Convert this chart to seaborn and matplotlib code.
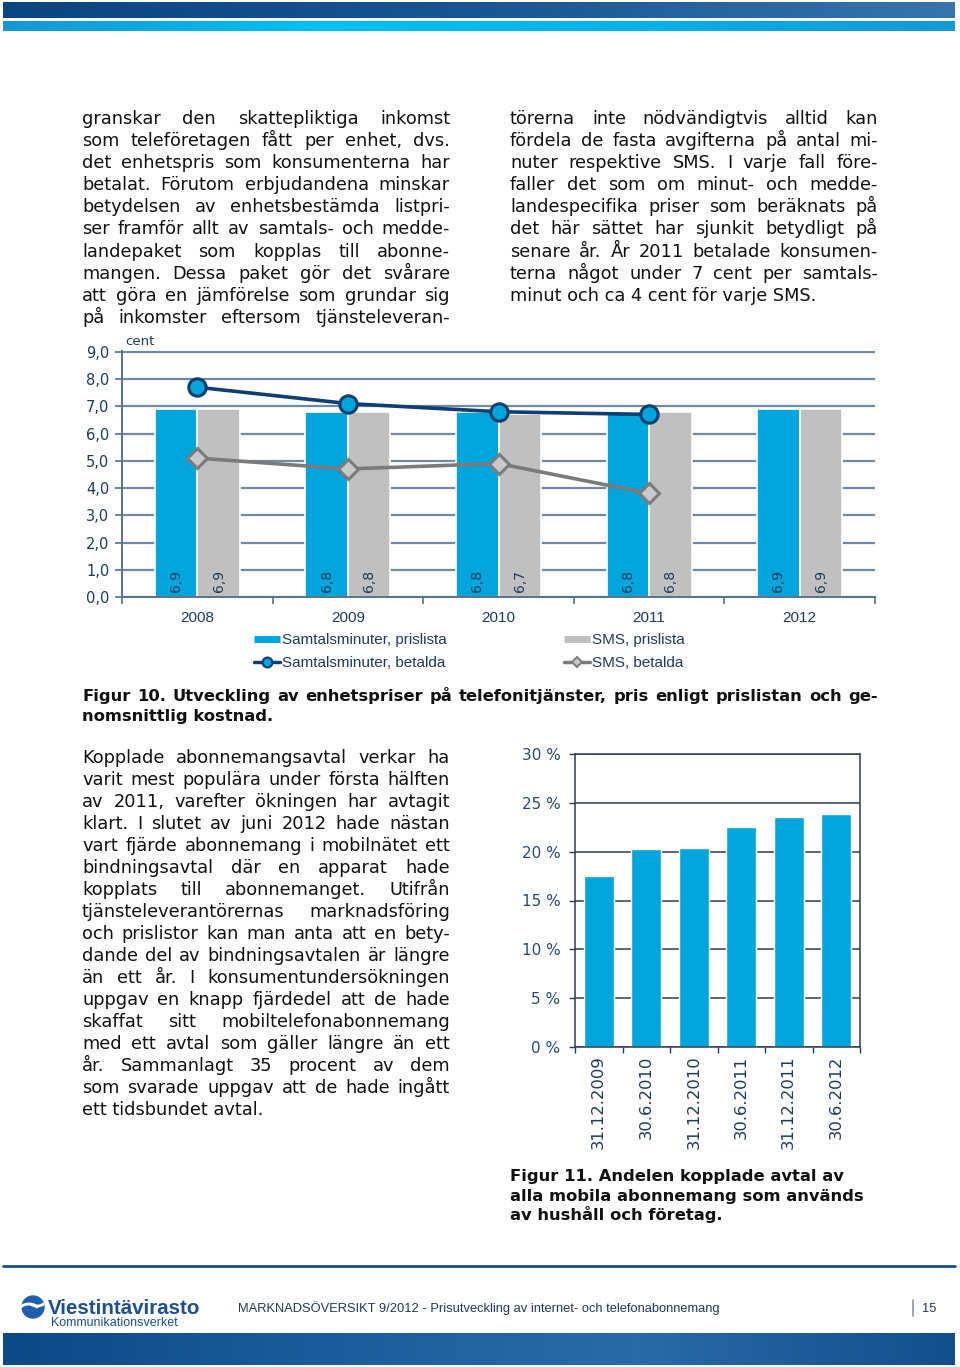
import numpy as np
import pandas as pd
import matplotlib
matplotlib.use("Agg")
import matplotlib.pyplot as plt
import seaborn as sns
from matplotlib.colors import LinearSegmentedColormap
from matplotlib.lines import Line2D
from matplotlib.patches import Circle, Arc

# Figur 10 - enhetspriser (cent)
years = ["2008", "2009", "2010", "2011", "2012"]
min_prislista = [6.9, 6.8, 6.8, 6.8, 6.9]
sms_prislista = [6.9, 6.8, 6.7, 6.8, 6.9]
betalda_years = ["2008", "2009", "2010", "2011"]
min_betalda = [7.7, 7.1, 6.8, 6.7]
sms_betalda = [5.1, 4.7, 4.9, 3.8]
series_names = ["Samtalsminuter, prislista", "SMS, prislista",
                "Samtalsminuter, betalda", "SMS, betalda"]

# Figur 11 - andel kopplade avtal (%)
dates = ["31.12.2009", "30.6.2010", "31.12.2010", "30.6.2011", "31.12.2011", "30.6.2012"]
andel = [17.5, 20.3, 20.4, 22.5, 23.6, 23.9]

left1 = [
    "granskar den skattepliktiga inkomst",
    "som teleföretagen fått per enhet, dvs.",
    "det enhetspris som konsumenterna har",
    "betalat. Förutom erbjudandena minskar",
    "betydelsen av enhetsbestämda listpri-",
    "ser framför allt av samtals- och medde-",
    "landepaket som kopplas till abonne-",
    "mangen. Dessa paket gör det svårare",
    "att göra en jämförelse som grundar sig",
    "på inkomster eftersom tjänsteleveran-",
]
right1 = [
    "törerna inte nödvändigtvis alltid kan",
    "fördela de fasta avgifterna på antal mi-",
    "nuter respektive SMS. I varje fall före-",
    "faller det som om minut- och medde-",
    "landespecifika priser som beräknats på",
    "det här sättet har sjunkit betydligt på",
    "senare år. År 2011 betalade konsumen-",
    "terna något under 7 cent per samtals-",
    "minut och ca 4 cent för varje SMS.",
]
cap10 = [
    "Figur 10. Utveckling av enhetspriser på telefonitjänster, pris enligt prislistan och ge-",
    "nomsnittlig kostnad.",
]
left2 = [
    "Kopplade abonnemangsavtal verkar ha",
    "varit mest populära under första hälften",
    "av 2011, varefter ökningen har avtagit",
    "klart. I slutet av juni 2012 hade nästan",
    "vart fjärde abonnemang i mobilnätet ett",
    "bindningsavtal där en apparat hade",
    "kopplats till abonnemanget. Utifrån",
    "tjänsteleverantörernas marknadsföring",
    "och prislistor kan man anta att en bety-",
    "dande del av bindningsavtalen är längre",
    "än ett år. I konsumentundersökningen",
    "uppgav en knapp fjärdedel att de hade",
    "skaffat sitt mobiltelefonabonnemang",
    "med ett avtal som gäller längre än ett",
    "år. Sammanlagt 35 procent av dem",
    "som svarade uppgav att de hade ingått",
    "ett tidsbundet avtal.",
]
cap11 = [
    "Figur 11. Andelen kopplade avtal av",
    "alla mobila abonnemang som används",
    "av hushåll och företag.",
]

BLUE = "#00a5dc"
GRAY = "#c0c0c0"
LINE_NAVY = "#0f3e72"
SMS_LINE = "#7b7b7b"
SMS_FILL = "#c9c9c9"
NAVY = "#1f3a5f"
GRID1 = "#7089a5"
AXIS1 = "#56718f"
FRAME2 = "#2b3d55"

sns.set_style("white")
plt.rcParams["font.family"] = ["DejaVu Sans"]

W, H = 960, 1367
fig = plt.figure(figsize=(W / 100, H / 100), dpi=100)
bg = fig.add_axes([0, 0, 1, 1], zorder=0)
bg.axis("off")


def set_bg_limits():
    bg.set_xlim(0, W)
    bg.set_ylim(H, 0)


set_bg_limits()


def px_axes(x0, y0, x1, y1):
    a = fig.add_axes([x0 / W, 1 - y1 / H, (x1 - x0) / W, (y1 - y0) / H], zorder=2)
    a.set_facecolor("none")
    return a


def band(x0, x1, y0, y1, colors):
    cmap = LinearSegmentedColormap.from_list("band", colors)
    bg.imshow(np.linspace(0, 1, 256)[None, :], cmap=cmap, aspect="auto",
              extent=(x0, x1, y1, y0), interpolation="bicubic")


renderer = fig.canvas.get_renderer()


def para(lines, x0, x1, y0, dy, justify_last=False, justify=True, **kw):
    for i, line in enumerate(lines):
        y = y0 + i * dy
        last = i == len(lines) - 1
        words = line.split(" ")
        if not justify or (last and not justify_last) or len(words) < 2:
            bg.text(x0, y, line, ha="left", va="baseline", **kw)
            continue
        arts = [bg.text(x0, y, w, ha="left", va="baseline", **kw) for w in words]
        ws = [a.get_window_extent(renderer).width for a in arts]
        gap = (x1 - x0 - sum(ws)) / (len(words) - 1)
        x = x0
        for a, w in zip(arts, ws):
            a.set_x(x)
            x += w + gap


# sidhuvud
band(3, 955, 2, 18, ["#0a4580", "#195592", "#3774ae"])
band(3, 955, 21, 31, ["#1597d4", "#00c2f4", "#02b2ec", "#1599d5"])

body = dict(fontsize=12.8, color="#111111")
para(left1, 82, 450, 124, 22.1, justify_last=True, **body)
para(right1, 510, 878, 124, 22.1, **body)
para(left2, 82, 450, 763, 22.03, **body)
capkw = dict(fontsize=11.8, fontweight="bold", color="#111111")
para(cap10, 82, 878, 701, 20, **capkw)
para(cap11, 510, 878, 1181, 19.5, justify=False, **capkw)

# Figur 10
ax1 = px_axes(122, 351, 875, 597)
df1 = pd.DataFrame({
    "year": years * 2,
    "cent": min_prislista + sms_prislista,
    "serie": [series_names[0]] * 5 + [series_names[1]] * 5,
})
sns.barplot(data=df1, x="year", y="cent", hue="serie", order=years,
            hue_order=series_names[:2], palette=[BLUE, GRAY], saturation=1,
            width=0.565, edgecolor="white", linewidth=1.2, legend=False,
            errorbar=None, ax=ax1, zorder=2)
for cont, vals in zip(ax1.containers, [min_prislista, sms_prislista]):
    for p, v in zip(cont.patches, vals):
        ax1.text(p.get_x() + p.get_width() / 2, 0.2, f"{v:.1f}".replace(".", ","),
                 rotation=90, ha="center", va="bottom", fontsize=10, color=NAVY, zorder=5)

sns.pointplot(data=pd.DataFrame({"year": betalda_years, "cent": min_betalda}),
              x="year", y="cent", order=years, color=LINE_NAVY, markers="o",
              markersize=12.5, linewidth=2.6, markeredgewidth=2.2,
              markerfacecolor=BLUE, markeredgecolor=LINE_NAVY,
              errorbar=None, ax=ax1, zorder=4)
sns.pointplot(data=pd.DataFrame({"year": betalda_years, "cent": sms_betalda}),
              x="year", y="cent", order=years, color=SMS_LINE, markers="D",
              markersize=10, linewidth=2.6, markeredgewidth=2.2,
              markerfacecolor=SMS_FILL, markeredgecolor=SMS_LINE,
              errorbar=None, ax=ax1, zorder=4)

ax1.set_ylim(0, 9.03)
ax1.set_yticks(range(10))
ax1.set_yticklabels([f"{v},0" for v in range(10)])
ax1.set_xlim(-0.5, 4.5)
ax1.set_xticks(range(5))
ax1.set_xticklabels(years)
ax1.set_xticks(np.arange(-0.5, 5, 1), minor=True)
ax1.yaxis.grid(True, color=GRID1, lw=1.6)
ax1.xaxis.grid(False)
ax1.set_axisbelow(True)
ax1.tick_params(axis="x", which="major", length=0, pad=10, labelsize=11, labelcolor=NAVY)
ax1.tick_params(axis="x", which="minor", length=5, width=1.2, color=AXIS1, direction="out", bottom=True)
ax1.tick_params(axis="y", length=5, width=1.2, color=AXIS1, pad=4, labelsize=10.5,
                labelcolor=NAVY, left=True, direction="out")
for t in ax1.get_xticklabels():
    t.set_fontfamily("Liberation Sans")
sns.despine(ax=ax1)
for s in ["left", "bottom"]:
    ax1.spines[s].set_color(AXIS1)
    ax1.spines[s].set_linewidth(1.4)
ax1.set_xlabel("")
ax1.set_ylabel("")
bg.text(125, 345, "cent", fontsize=9.5, color=NAVY, ha="left", va="baseline")

legprop = {"family": "Liberation Sans", "size": 11}
h_min_list = Line2D([], [], color=BLUE, lw=5, solid_capstyle="butt")
h_sms_list = Line2D([], [], color=GRAY, lw=5, solid_capstyle="butt")
h_min_paid = Line2D([], [], color=LINE_NAVY, lw=2.5, marker="o", markersize=7,
                    markerfacecolor=BLUE, markeredgecolor=LINE_NAVY, markeredgewidth=1.6)
h_sms_paid = Line2D([], [], color=SMS_LINE, lw=2.5, marker="D", markersize=5.5,
                    markerfacecolor=SMS_FILL, markeredgecolor=SMS_LINE, markeredgewidth=1.4)
legkw = dict(loc="upper left", bbox_transform=bg.transData, frameon=False, prop=legprop,
             labelcolor=NAVY, handlelength=1.7, handletextpad=0.15, labelspacing=0.62,
             borderpad=0, borderaxespad=0)
leg1 = bg.legend([h_min_list, h_min_paid], [series_names[0], series_names[2]],
                 bbox_to_anchor=(254, 633), **legkw)
bg.add_artist(leg1)
bg.legend([h_sms_list, h_sms_paid], [series_names[1], series_names[3]],
          bbox_to_anchor=(564, 633), **legkw)

# Figur 11
ax2 = px_axes(575, 754, 860, 1047)
sns.barplot(data=pd.DataFrame({"date": dates, "andel": andel}), x="date", y="andel",
            order=dates, color=BLUE, saturation=1, width=0.63, errorbar=None,
            ax=ax2, zorder=2)
ax2.set_ylim(0, 30)
ax2.set_yticks(range(0, 31, 5))
ax2.set_yticklabels([f"{v} %" for v in range(0, 31, 5)])
ax2.set_xlim(-0.5, 5.5)
ax2.set_xticks(range(6))
ax2.set_xticklabels(dates, rotation=90)
ax2.set_xticks(np.arange(-0.5, 6, 1), minor=True)
ax2.yaxis.grid(True, color=FRAME2, lw=1.1)
ax2.xaxis.grid(False)
ax2.set_axisbelow(True)
ax2.tick_params(axis="x", which="major", length=0, pad=6, labelsize=11.8, labelcolor=NAVY)
ax2.tick_params(axis="x", which="minor", length=4, width=1, color=FRAME2, direction="out", bottom=True)
ax2.tick_params(axis="y", length=4, width=1, color=FRAME2, pad=6.4, labelsize=11,
                labelcolor="#2a4a75", left=True, direction="out")
for s in ax2.spines.values():
    s.set_color(FRAME2)
    s.set_linewidth(1.1)
ax2.set_xlabel("")
ax2.set_ylabel("")

# sidfot
bg.plot([3, 955], [1266, 1266], color="#1b4f86", lw=2)
band(3, 955, 1333, 1365, ["#0b4a85", "#1d5c9c", "#2a6aa8", "#134f8b"])
bg.add_patch(Circle((33, 1307), 11, color="#1f5fae"))
bg.add_patch(Arc((29, 1311), 20, 14, theta1=200, theta2=340, color="white", lw=2))
bg.add_patch(Arc((37, 1301), 16, 10, theta1=20, theta2=160, color="white", lw=2))
bg.text(48, 1314, "Viestintävirasto", fontsize=14.8, fontweight="bold",
        family="Liberation Sans", color="#1d4f91", ha="left", va="baseline")
bg.text(51, 1326, "Kommunikationsverket", fontsize=9, family="Liberation Sans",
        color="#1d4f91", ha="left", va="baseline")
bg.text(238, 1312, "MARKNADSÖVERSIKT 9/2012 - Prisutveckling av internet- och telefonabonnemang",
        fontsize=9.3, family="Liberation Sans", color=NAVY, ha="left", va="baseline")
bg.plot([913, 913], [1300, 1316], color="#8a96a6", lw=1.2)
bg.text(922, 1312, "15", fontsize=9.3, family="Liberation Sans", color=NAVY,
        ha="left", va="baseline")

set_bg_limits()
fig.savefig("out.png", dpi=100)
